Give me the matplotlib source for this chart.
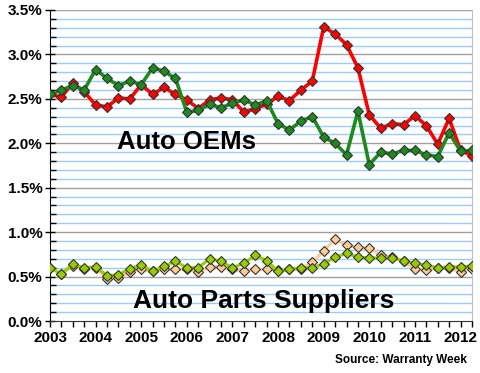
import numpy as np
import matplotlib.pyplot as plt
from matplotlib.ticker import MultipleLocator, FuncFormatter

# quarterly warranty claims as % of sales, 2003 Q1 .. 2012 Q2
years = list(range(2003, 2013))
oem_red = [2.55, 2.52, 2.68, 2.58, 2.43, 2.41, 2.51, 2.50, 2.66, 2.55,
           2.63, 2.55, 2.49, 2.39, 2.49, 2.51, 2.49, 2.35, 2.39, 2.44,
           2.53, 2.48, 2.60, 2.70, 3.31, 3.23, 3.11, 2.85, 2.32, 2.17,
           2.22, 2.21, 2.31, 2.20, 1.99, 2.28, 1.92, 1.86]
oem_green = [2.55, 2.60, 2.65, 2.60, 2.83, 2.73, 2.65, 2.70, 2.66, 2.85,
             2.81, 2.73, 2.35, 2.37, 2.44, 2.40, 2.45, 2.49, 2.43, 2.48,
             2.22, 2.15, 2.25, 2.30, 2.07, 2.00, 1.87, 2.36, 1.76, 1.90,
             1.88, 1.92, 1.92, 1.87, 1.85, 2.12, 1.91, 1.92]
parts_green = [0.60, 0.53, 0.64, 0.60, 0.61, 0.51, 0.52, 0.59, 0.63, 0.56,
               0.62, 0.67, 0.60, 0.60, 0.70, 0.67, 0.60, 0.65, 0.74, 0.68,
               0.56, 0.58, 0.60, 0.60, 0.64, 0.72, 0.76, 0.72, 0.71, 0.71,
               0.71, 0.68, 0.65, 0.63, 0.60, 0.61, 0.61, 0.62]
parts_peach = [0.60, 0.53, 0.62, 0.59, 0.60, 0.47, 0.48, 0.55, 0.58, 0.56,
               0.58, 0.58, 0.58, 0.55, 0.61, 0.61, 0.58, 0.56, 0.58, 0.58,
               0.57, 0.58, 0.59, 0.66, 0.79, 0.92, 0.85, 0.83, 0.82, 0.74,
               0.72, 0.67, 0.58, 0.57, 0.60, 0.60, 0.55, 0.59]

x = np.arange(len(oem_red))

fig = plt.figure(figsize=(4.8, 3.73), dpi=100)
ax = fig.add_axes([0.1042, 0.1394, 0.879, 0.8338])

# grid: blue every 0.1%, gray every 0.5%
for v in np.arange(0.1, 3.51, 0.1):
    major = abs(v / 0.5 - round(v / 0.5)) < 1e-6
    ax.axhline(v, color='#A0A0A0' if major else '#99CCFF', lw=1.0, zorder=0)

mk = dict(marker='D', markersize=5.5, markeredgewidth=0.8, markeredgecolor='#333333')
ax.plot(x, parts_peach, color='#FFCC99', lw=2.2, markerfacecolor='#FFCC99', zorder=2, **mk)
ax.plot(x, parts_green, color='#99CC00', lw=2.2, markerfacecolor='#99CC00', zorder=3, **mk)
ax.plot(x, oem_red, color='#FF0000', lw=2.6, markerfacecolor='#FF0000', zorder=4, **mk)
ax.plot(x, oem_green, color='#1E8A1E', lw=2.6, markerfacecolor='#1E8A1E', zorder=5, **mk)

ax.set_xlim(0, len(x) - 1)
ax.set_ylim(0, 3.5)
ax.set_xticks(np.arange(0, len(x), 4))
ax.set_xticklabels([str(y) for y in years])
ax.xaxis.set_minor_locator(MultipleLocator(1))
ax.yaxis.set_major_locator(MultipleLocator(0.5))
ax.yaxis.set_minor_locator(MultipleLocator(0.1))
ax.yaxis.set_major_formatter(FuncFormatter(lambda v, p: f'{v:.1f}%'))

for lab in ax.get_xticklabels() + ax.get_yticklabels():
    lab.set_fontweight('bold')
    lab.set_fontsize(11)
    lab.set_family('Liberation Sans')

ax.tick_params(axis='y', which='major', direction='inout', length=7, width=1, pad=2)
ax.tick_params(axis='y', which='minor', direction='in', length=4, width=1)
ax.tick_params(axis='x', which='both', direction='out', length=4, width=1, pad=3)

ax.spines['left'].set_color('black')
ax.spines['bottom'].set_color('#333333')
ax.spines['top'].set_visible(False)
ax.spines['right'].set_color('#C0C0C0')

ax.text(12.0, 2.02, 'Auto OEMs', fontsize=18.5, fontweight='bold',
        family='Liberation Sans', ha='center', va='center', zorder=6)
ax.text(18.7, 0.22, 'Auto Parts Suppliers', fontsize=19, fontweight='bold',
        family='Liberation Sans', ha='center', va='center', zorder=6)

fig.text(0.973, 0.018, 'Source: Warranty Week', fontsize=8.5, fontweight='bold',
         family='Liberation Sans', ha='right', va='bottom')

fig.savefig('out.png', dpi=100)
